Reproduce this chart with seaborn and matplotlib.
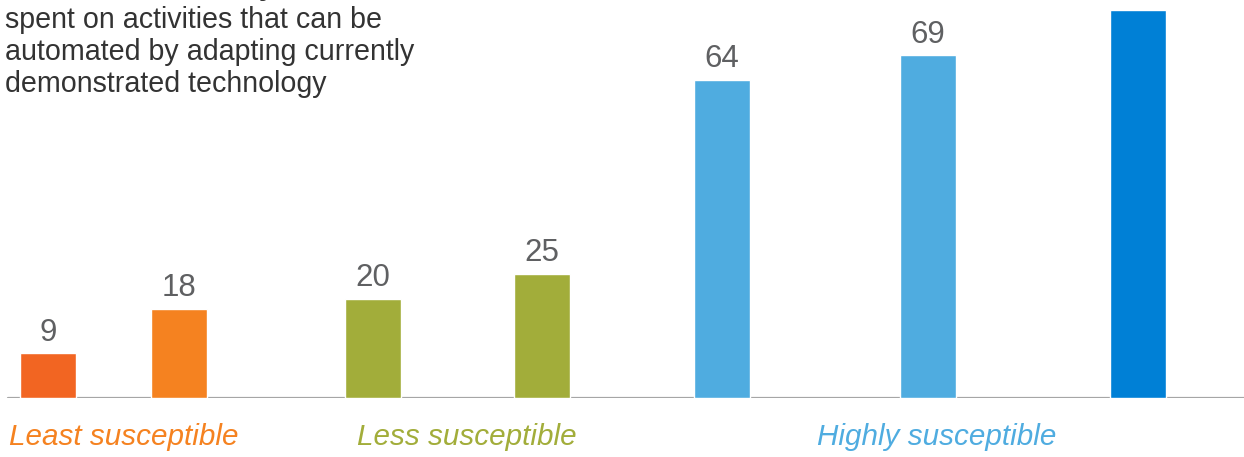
import matplotlib
matplotlib.use("Agg")
import matplotlib.pyplot as plt
import seaborn as sns
import pandas as pd

# ---- data ----
activities = ["Managing others", "Applying expertise", "Stakeholder interactions",
              "Unpredictable physical work", "Data collection", "Data processing",
              "Predictable physical work"]
values = [9, 18, 20, 25, 64, 69, 78]
groups = ["Least susceptible", "Least susceptible", "Less susceptible", "Less susceptible",
          "Highly susceptible", "Highly susceptible", "Highly susceptible"]
group_labels = ["Least susceptible", "Less susceptible", "Highly susceptible"]
title_lines = ["Technical feasibility, % of time",
               "spent on activities that can be",
               "automated by adapting currently",
               "demonstrated technology"]

# ---- layout / style ----
positions = [48, 179, 373, 542, 722, 928, 1138]   # bar centres (pixel-like units)
bar_colors = ["#F26522", "#F58220", "#A2AD3A", "#A2AD3A", "#4FACE0", "#4FACE0", "#0080D6"]
group_colors = {"Least susceptible": "#F58220", "Less susceptible": "#A2AD3A",
                "Highly susceptible": "#4FACE0"}
group_label_x = [124, 467, 937]

W, H = 1244, 457
sns.set_theme(style="white")
plt.rcParams["font.family"] = ["Liberation Sans", "DejaVu Sans"]

fig = plt.figure(figsize=(W / 100, H / 100), dpi=100)
base_px = 59
ax = fig.add_axes([0, base_px / H, 1, (H - base_px) / H])

df = pd.DataFrame({"pos": positions, "value": values, "activity": activities})
palette = dict(zip(activities, bar_colors))
sns.barplot(data=df, x="pos", y="value", hue="activity", palette=palette,
            native_scale=True, dodge=False, width=56 / 131, legend=False,
            saturation=1, ax=ax)

ax.set_xlim(0, W)
ax.set_ylim(0, (H - base_px) / 4.97)
for c in ax.containers:
    ax.bar_label(c, padding=4, fontsize=22.5, color="#5F6062", clip_on=False)

ax.axhline(0, xmin=8 / W, xmax=1, color="#A6A6A6", lw=1.6, zorder=0.5)
for s in ax.spines.values():
    s.set_visible(False)
ax.set_xticks([])
ax.set_yticks([])
ax.set_xlabel("")
ax.set_ylabel("")

for lbl, gx in zip(group_labels, group_label_x):
    fig.text(gx / W, 1 - 445 / H, lbl, ha="center", va="baseline",
             fontsize=21.3, style="italic", color=group_colors[lbl])

baselines = [-5, 28, 60, 92]
weights = ["bold", "normal", "normal", "normal"]
for line, b, w in zip(title_lines, baselines, weights):
    fig.text(5 / W, 1 - b / H, line, ha="left", va="baseline",
             fontsize=20.6, color="#333333", fontweight=w)

fig.savefig("out.png", dpi=100)
